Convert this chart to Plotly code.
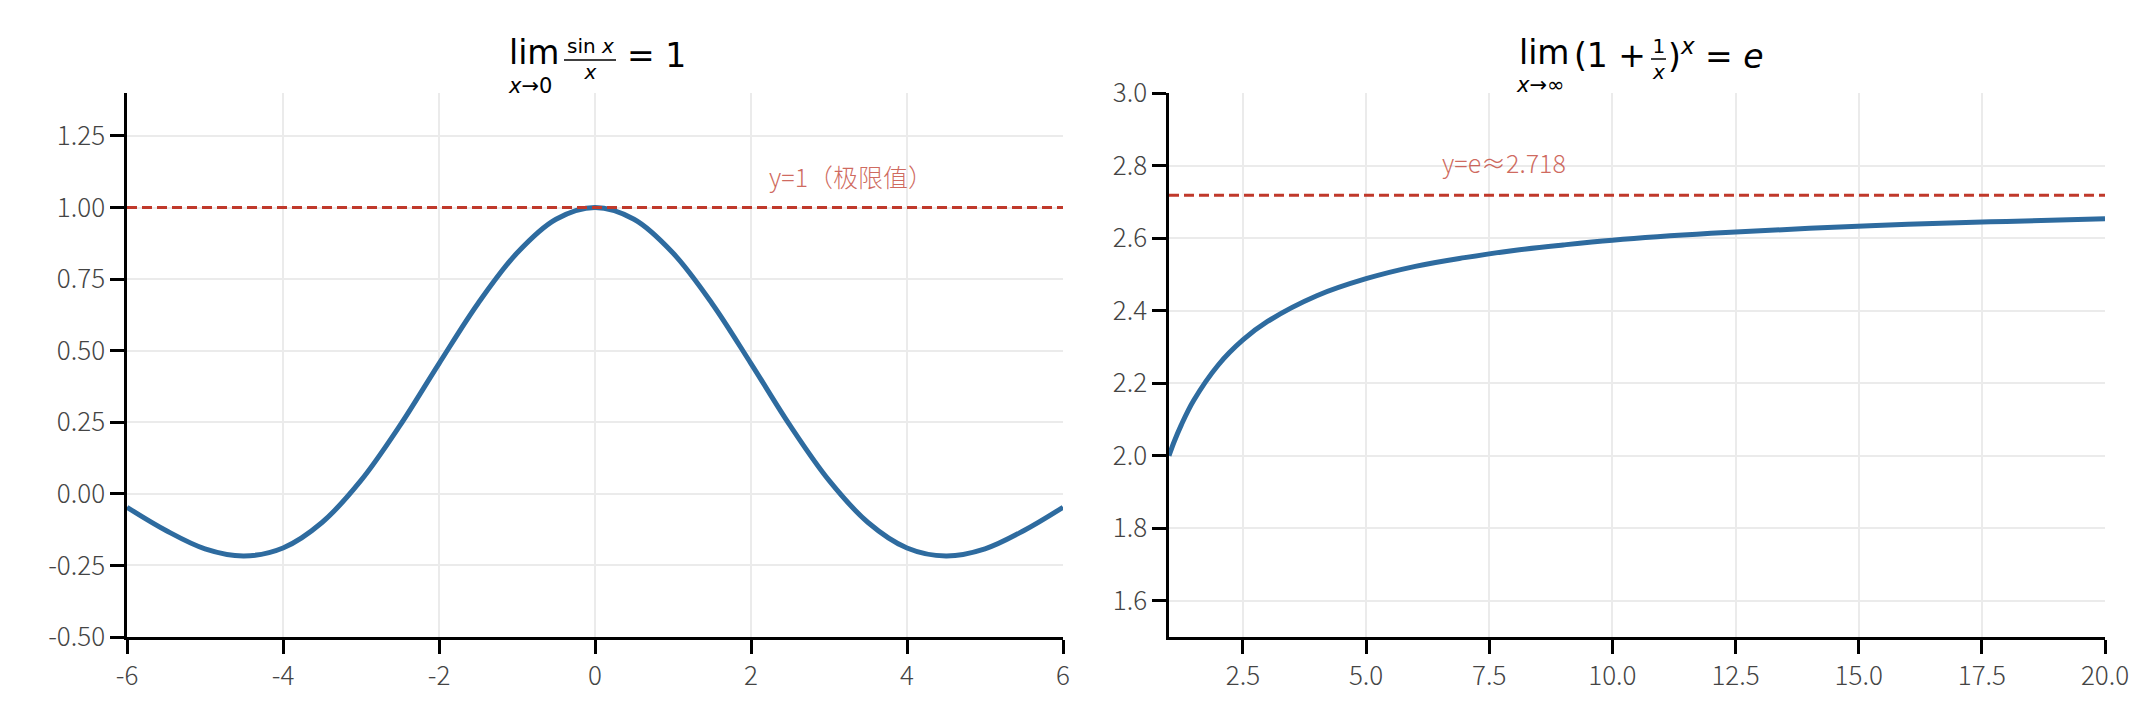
import plotly.graph_objects as go

# values
sinc_x = [-6, -5.5, -5, -4.5, -4, -3.5, -3, -2.5, -2, -1.5, -1, -0.5, 0,
          0.5, 1, 1.5, 2, 2.5, 3, 3.5, 4, 4.5, 5, 5.5, 6]
sinc_y = [-0.047, -0.128, -0.192, -0.217, -0.189, -0.100, 0.047, 0.239, 0.455, 0.665, 0.841, 0.959, 1.0,
          0.959, 0.841, 0.665, 0.455, 0.239, 0.047, -0.100, -0.189, -0.217, -0.192, -0.128, -0.047]

e_x = [1, 1.1, 1.25, 1.5, 2, 2.5, 3, 4, 5, 6, 7, 8, 9, 10, 12, 14, 16, 18, 20]
e_y = [2.0, 2.037, 2.085, 2.152, 2.25, 2.319, 2.370, 2.441, 2.488, 2.522, 2.546, 2.566,
       2.581, 2.594, 2.613, 2.627, 2.638, 2.646, 2.653]

limit1 = 1.0
limit2 = 2.718

x1_ticks = [-6, -4, -2, 0, 2, 4, 6]
x1_text = ["-6", "-4", "-2", "0", "2", "4", "6"]
y1_ticks = [-0.5, -0.25, 0, 0.25, 0.5, 0.75, 1.0, 1.25]
y1_text = ["-0.50", "-0.25", "0.00", "0.25", "0.50", "0.75", "1.00", "1.25"]
x2_ticks = [2.5, 5, 7.5, 10, 12.5, 15, 17.5, 20]
x2_text = ["2.5", "5.0", "7.5", "10.0", "12.5", "15.0", "17.5", "20.0"]
y2_ticks = [1.6, 1.8, 2.0, 2.2, 2.4, 2.6, 2.8, 3.0]
y2_text = ["1.6", "1.8", "2.0", "2.2", "2.4", "2.6", "2.8", "3.0"]

note1 = "y=1（极限值）"
note2 = "y=e≈2.718"

W, H = 2151, 717
blue = "#2e6b9f"
red = "#c0392b"
note_col = "rgba(192,57,43,0.75)"
light = "Noto Sans CJK SC Light, Noto Sans CJK SC"
tick_font = dict(family=light, size=26, color="#444444", weight=300)

fig = go.Figure()
fig.add_trace(go.Scatter(x=sinc_x, y=sinc_y, mode="lines", line=dict(color=blue, width=5, shape="spline"),
                         xaxis="x", yaxis="y"))
fig.add_trace(go.Scatter(x=[x1_ticks[0], x1_ticks[-1]], y=[limit1, limit1], mode="lines",
                         line=dict(color=red, width=3, dash="10px,5px"), xaxis="x", yaxis="y"))
fig.add_trace(go.Scatter(x=e_x, y=e_y, mode="lines", line=dict(color=blue, width=5, shape="spline"),
                         xaxis="x2", yaxis="y2"))
fig.add_trace(go.Scatter(x=[e_x[0], e_x[-1]], y=[limit2, limit2], mode="lines",
                         line=dict(color=red, width=3, dash="10px,5px"), xaxis="x2", yaxis="y2"))

axis_common = dict(showline=True, linecolor="black", linewidth=2.5, ticks="outside", ticklen=14,
                   tickwidth=2.5, tickcolor="black", showgrid=True, gridcolor="#ebebeb", gridwidth=1.5,
                   zeroline=False, tickfont=tick_font, tickmode="array", mirror=False, automargin=False)

fig.update_layout(
    width=W, height=H,
    margin=dict(l=0, r=0, t=0, b=0),
    paper_bgcolor="white", plot_bgcolor="white",
    showlegend=False,
    xaxis=dict(domain=[119 / W, 1055 / W], range=[-6, 6], tickvals=x1_ticks, ticktext=x1_text,
               anchor="y", **axis_common),
    yaxis=dict(domain=[1 - 629 / H, 1 - 85 / H], range=[-0.5, 1.4], tickvals=y1_ticks, ticktext=y1_text,
               anchor="x", **axis_common),
    xaxis2=dict(domain=[1161 / W, 2097 / W], range=[1, 20], tickvals=x2_ticks, ticktext=x2_text,
                anchor="y2", **axis_common),
    yaxis2=dict(domain=[1 - 629 / H, 1 - 85 / H], range=[1.5, 3.0], tickvals=y2_ticks, ticktext=y2_text,
                anchor="x2", **axis_common),
)


# title pieces (matplotlib mathtext look), placed in pixels
def put(text, px, py, size, xanchor="left"):
    fig.add_annotation(text=text, xref="paper", yref="paper", x=px / W, y=1 - py / H,
                       xanchor=xanchor, yanchor="middle", showarrow=False, borderpad=0,
                       font=dict(family="DejaVu Sans", size=size, color="black"))


def bar(x0, x1, py):
    fig.add_shape(type="line", xref="paper", yref="paper", x0=x0 / W, x1=x1 / W,
                  y0=1 - py / H, y1=1 - py / H, line=dict(color="black", width=1.5))


# left title: lim x->0 sin x / x = 1
put("lim", 500, 44, 33)
put("<i>x</i>→0", 499, 78, 21)
put("sin <i>x</i><br><i>x</i>", 582, 51, 20, "center")
bar(556, 608, 52)
put("= 1", 618, 48, 33)

# right title: lim x->inf (1 + 1/x)^x = e
put("lim", 1510, 44, 33)
put("<i>x</i>→∞", 1507, 77, 21)
put("(1 +", 1565, 48, 33)
put("1<br><i>x</i>", 1650, 51, 20, "center")
bar(1643, 1658, 51)
put(")<sup><i>x</i></sup> = <i>e</i>", 1659, 46, 33)

fig.add_annotation(text=note1, xref="x", yref="y", x=2.2, y=1.04, xanchor="left", yanchor="bottom",
                   showarrow=False, font=dict(family=light, size=25, color=note_col, weight=300))
fig.add_annotation(text=note2, xref="x2", yref="y2", x=6.5, y=2.755, xanchor="left", yanchor="bottom",
                   showarrow=False, font=dict(family=light, size=25, color=note_col, weight=300))

fig.write_html("out.html")
